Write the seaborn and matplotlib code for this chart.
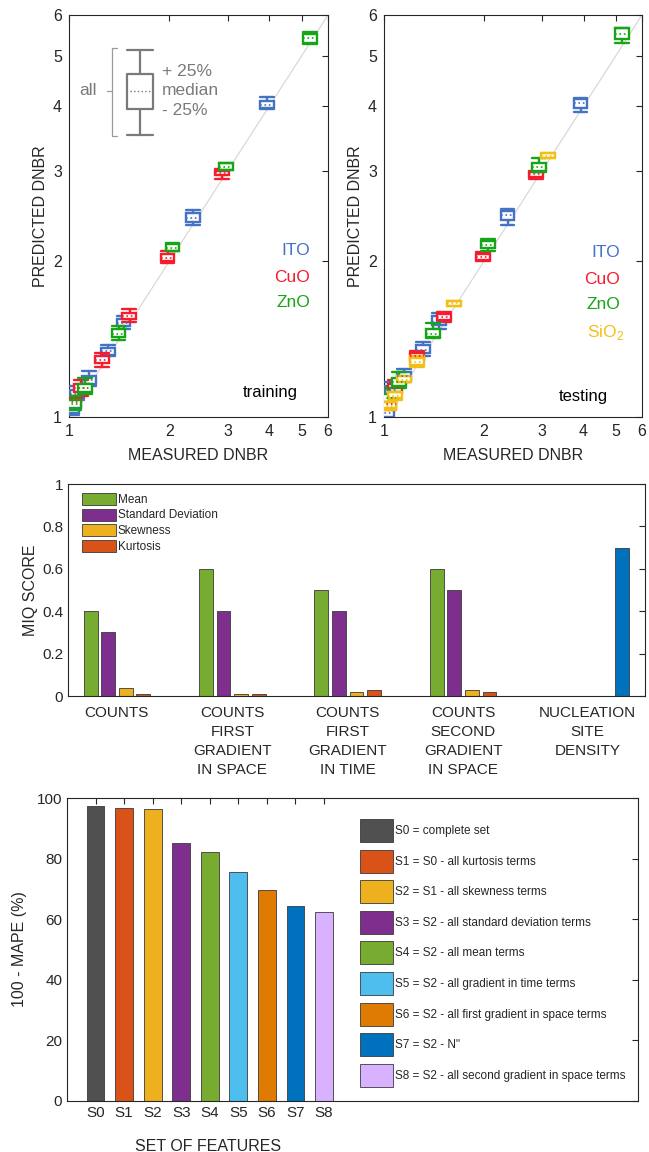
import numpy as np
import pandas as pd
import matplotlib.pyplot as plt
import seaborn as sns
from matplotlib.patches import Patch
from matplotlib.ticker import NullLocator

sns.set_theme(style='white')
plt.rcParams['font.family'] = ['Liberation Sans', 'DejaVu Sans']
plt.rcParams['mathtext.fontset'] = 'custom'
plt.rcParams['mathtext.rm'] = 'Liberation Sans'

# ---------------- parity plots: (measured, whisker_lo, q1, median, q3, whisker_hi)
train_ito = [(1.02, 1.01, 1.02, 1.04, 1.06, 1.07), (1.06, 1.08, 1.09, 1.11, 1.13, 1.15),
             (1.15, 1.15, 1.16, 1.18, 1.20, 1.23), (1.31, 1.31, 1.32, 1.34, 1.36, 1.38),
             (1.46, 1.48, 1.50, 1.52, 1.55, 1.57), (2.36, 2.35, 2.39, 2.43, 2.48, 2.52),
             (3.94, 3.94, 3.96, 4.02, 4.09, 4.16)]
train_cuo = [(1.035, 1.04, 1.05, 1.07, 1.09, 1.10), (1.09, 1.10, 1.12, 1.14, 1.16, 1.18),
             (1.26, 1.25, 1.27, 1.29, 1.31, 1.33), (1.52, 1.53, 1.55, 1.57, 1.59, 1.62),
             (1.98, 1.99, 2.00, 2.03, 2.07, 2.10), (2.88, 2.89, 2.94, 2.97, 3.00, 3.02)]
train_zno = [(1.035, 1.03, 1.04, 1.06, 1.08, 1.10), (1.12, 1.11, 1.12, 1.14, 1.16, 1.19),
             (1.41, 1.41, 1.43, 1.45, 1.48, 1.50), (2.05, 2.10, 2.10, 2.12, 2.16, 2.17),
             (2.96, 3.01, 3.01, 3.05, 3.10, 3.10), (5.30, 5.27, 5.30, 5.41, 5.52, 5.55)]

test_ito = [(1.02, 0.99, 1.00, 1.02, 1.04, 1.06), (1.055, 1.10, 1.11, 1.13, 1.15, 1.17),
            (1.15, 1.17, 1.18, 1.20, 1.22, 1.24), (1.31, 1.31, 1.33, 1.35, 1.38, 1.40),
            (1.47, 1.48, 1.51, 1.53, 1.57, 1.59), (2.36, 2.35, 2.41, 2.46, 2.51, 2.53),
            (3.92, 3.90, 3.97, 4.05, 4.12, 4.14)]
test_cuo = [(1.035, 1.03, 1.04, 1.06, 1.08, 1.10), (1.08, 1.11, 1.12, 1.14, 1.16, 1.18),
            (1.26, 1.28, 1.29, 1.31, 1.33, 1.34), (1.52, 1.53, 1.54, 1.56, 1.58, 1.60),
            (1.99, 2.00, 2.01, 2.04, 2.07, 2.09), (2.88, 2.89, 2.92, 2.95, 2.98, 2.99)]
test_zno = [(1.035, 1.06, 1.07, 1.09, 1.11, 1.14), (1.11, 1.14, 1.15, 1.17, 1.19, 1.22),
            (1.41, 1.42, 1.43, 1.45, 1.48, 1.52), (2.06, 2.10, 2.12, 2.15, 2.19, 2.21),
            (2.94, 2.98, 3.00, 3.05, 3.10, 3.17), (5.23, 5.30, 5.40, 5.51, 5.65, 5.65)]
test_sio2 = [(1.035, 1.03, 1.04, 1.05, 1.07, 1.07), (1.08, 1.08, 1.09, 1.10, 1.12, 1.12),
             (1.15, 1.17, 1.17, 1.18, 1.20, 1.20), (1.26, 1.25, 1.26, 1.28, 1.30, 1.31),
             (1.63, 1.64, 1.64, 1.66, 1.68, 1.68), (3.12, 3.17, 3.17, 3.20, 3.24, 3.24)]

dnbr_range = [1, 6]
dnbr_ticks = [1, 2, 3, 4, 5, 6]
c_ito, c_cuo, c_zno, c_sio2 = '#4472C4', '#F51C2E', '#16A516', '#F2C014'

# ---------------- MIQ scores
groups = ['counts', 'grad_space', 'grad_time', 'grad2_space', 'nucleation']
group_labels = ['COUNTS', 'COUNTS\nFIRST\nGRADIENT\nIN SPACE', 'COUNTS\nFIRST\nGRADIENT\nIN TIME',
                'COUNTS\nSECOND\nGRADIENT\nIN SPACE', 'NUCLEATION\nSITE\nDENSITY']
stat_names = ['Mean', 'Standard Deviation', 'Skewness', 'Kurtosis', 'Nucleation site density']
mean_score = [0.40, 0.60, 0.50, 0.60]
std_score = [0.30, 0.40, 0.40, 0.50]
skew_score = [0.04, 0.01, 0.02, 0.03]
kurt_score = [0.01, 0.01, 0.03, 0.02]
nucleation_score = [0.70]
stat_colors = ['#77AC30', '#7E2F8E', '#EDB120', '#D95319', '#0072BD']

# ---------------- feature sets
set_names = ['S0', 'S1', 'S2', 'S3', 'S4', 'S5', 'S6', 'S7', 'S8']
set_pos = [1, 2, 3, 4, 5, 6, 7, 8, 9]
set_desc = ['S0 = complete set', 'S1 = S0 - all kurtosis terms', 'S2 = S1 - all skewness terms',
            'S3 = S2 - all standard deviation terms', 'S4 = S2 - all mean terms',
            'S5 = S2 - all gradient in time terms', 'S6 = S2 - all first gradient in space terms',
            'S7 = S2 - N"', 'S8 = S2 - all second gradient in space terms']
accuracy = [97.2, 96.7, 96.4, 85.3, 82.3, 75.6, 69.5, 64.2, 62.3]
set_colors = ['#505050', '#D95319', '#EDB120', '#7E2F8E', '#77AC30', '#4DBEEE', '#DF7B00', '#0072BD', '#D8B2FF']

INK = '#262626'


def style_axes(ax):
    for s in ax.spines.values():
        s.set_visible(True)
        s.set_color(INK)
        s.set_linewidth(0.8)
    ax.tick_params(direction='in', top=True, right=True, length=4, width=0.8,
                   colors=INK, labelsize=11)


def draw_boxes(ax, rows, color):
    stats = [dict(med=r[3], q1=r[2], q3=r[4], whislo=r[1], whishi=r[5], fliers=[]) for r in rows]
    pos = [r[0] for r in rows]
    w = [p * 0.095 for p in pos]
    ax.bxp(stats, positions=pos, widths=w, capwidths=w, patch_artist=True, showfliers=False,
           manage_ticks=False, zorder=3,
           boxprops=dict(facecolor='white', edgecolor=color, linewidth=1.7),
           medianprops=dict(color=color, linestyle=':', linewidth=1.2),
           whiskerprops=dict(color=color, linewidth=1.7),
           capprops=dict(color=color, linewidth=1.7))


def parity_axes(ax):
    ax.plot(dnbr_range, dnbr_range, color='#d4d4d4', lw=0.8, zorder=1)
    ax.set_xscale('log')
    ax.set_yscale('log')
    ax.set_xlim(dnbr_range)
    ax.set_ylim(dnbr_range)
    ax.set_xticks(dnbr_ticks, [str(t) for t in dnbr_ticks])
    ax.set_yticks(dnbr_ticks, [str(t) for t in dnbr_ticks])
    ax.xaxis.set_minor_locator(NullLocator())
    ax.yaxis.set_minor_locator(NullLocator())
    style_axes(ax)
    ax.tick_params(pad=5, labelsize=11.5)
    ax.set_xlabel('MEASURED DNBR', fontsize=11.5, color=INK, va='top')
    ax.set_ylabel('PREDICTED DNBR', fontsize=11.5, color=INK)
    ax.xaxis.set_label_coords(0.5, -0.078)
    ax.yaxis.set_label_coords(-0.08, 0.5)


fig = plt.figure(figsize=(6.49, 11.52), dpi=100)
W, H = 649, 1152
ax1 = fig.add_axes([69 / W, 1 - 417 / H, 259 / W, 402 / H])
ax2 = fig.add_axes([384 / W, 1 - 417 / H, 258 / W, 402 / H])
ax3 = fig.add_axes([68 / W, 1 - 696 / H, 577 / W, 212 / H])
ax4 = fig.add_axes([67 / W, 1 - 1101 / H, 571 / W, 303 / H])

# ---- training panel
for rows, c in [(train_ito, c_ito), (train_cuo, c_cuo), (train_zno, c_zno)]:
    draw_boxes(ax1, rows, c)
parity_axes(ax1)
for txt, y, c in [('ITO', 0.415, c_ito), ('CuO', 0.348, c_cuo), ('ZnO', 0.284, c_zno)]:
    ax1.text(0.93, y, txt, color=c, fontsize=12.5, ha='right', va='center', transform=ax1.transAxes)
ax1.text(0.884, 0.06, 'training', color='black', fontsize=12, ha='right', va='center',
         transform=ax1.transAxes)

# box legend sketch
g = '#7a7a7a'
tr = ax1.transAxes
bx0, bx1, bxc = 0.224, 0.324, 0.274
ax1.plot([bx0, bx1, bx1, bx0, bx0], [0.766, 0.766, 0.853, 0.853, 0.766], color=g, lw=1.6, transform=tr)
ax1.plot([bxc, bxc], [0.853, 0.913], color=g, lw=1.6, transform=tr)
ax1.plot([bxc, bxc], [0.701, 0.766], color=g, lw=1.6, transform=tr)
ax1.plot([bx0, bx1], [0.913, 0.913], color=g, lw=1.6, transform=tr)
ax1.plot([bx0, bx1], [0.701, 0.701], color=g, lw=1.6, transform=tr)
ax1.plot([bx0 + 0.01, bx1 - 0.01], [0.811, 0.811], color=g, lw=1.0, ls=':', transform=tr)
ax1.plot([0.185, 0.166, 0.166, 0.185], [0.918, 0.918, 0.699, 0.699], color='#9a9a9a', lw=0.9, transform=tr)
ax1.plot([0.147, 0.166], [0.811, 0.811], color='#9a9a9a', lw=0.9, transform=tr)
ax1.text(0.108, 0.811, 'all', color=g, fontsize=12.5, ha='right', va='center', transform=tr)
for txt, y in [('+ 25%', 0.86), ('median', 0.811), ('- 25%', 0.762)]:
    ax1.text(0.36, y, txt, color=g, fontsize=12.5, ha='left', va='center', transform=tr)

# ---- testing panel
for rows, c in [(test_ito, c_ito), (test_cuo, c_cuo), (test_zno, c_zno), (test_sio2, c_sio2)]:
    draw_boxes(ax2, rows, c)
parity_axes(ax2)
for txt, y, c in [('ITO', 0.41, c_ito), ('CuO', 0.343, c_cuo), ('ZnO', 0.279, c_zno)]:
    ax2.text(0.916, y, txt, color=c, fontsize=12.5, ha='right', va='center', transform=ax2.transAxes)
ax2.text(0.93, 0.211, 'SiO$_{\\mathregular{2}}$', color=c_sio2, fontsize=12.5, ha='right', va='center',
         transform=ax2.transAxes)
ax2.text(0.866, 0.052, 'testing', color='black', fontsize=12, ha='right', va='center',
         transform=ax2.transAxes)

# ---- MIQ score panel
rows = []
for gi, grp in enumerate(groups[:4]):
    for name, vals in zip(stat_names[:4], [mean_score, std_score, skew_score, kurt_score]):
        rows.append((grp, name, vals[gi]))
rows.append((groups[4], stat_names[4], nucleation_score[0]))
df_miq = pd.DataFrame(rows, columns=['group', 'stat', 'score'])

sns.barplot(data=df_miq, x='group', y='score', hue='stat', order=groups, hue_order=stat_names,
            palette=stat_colors, width=0.76, gap=0.21, dodge=True, saturation=1, errorbar=None,
            edgecolor='#3a3a3a', linewidth=0.6, legend=False, ax=ax3)
slot = 0.76 / len(stat_names)
ax3.set_xticks([i - 0.5 * slot for i in range(4)] + [4], group_labels, linespacing=1.45)
ax3.get_xticklabels()[-1].set_color('#0072BD')
ax3.set_xlim(-0.5, 4.5)
ax3.set_ylim(0, 1)
ax3.set_yticks([0, 0.2, 0.4, 0.6, 0.8, 1], ['0', '0.2', '0.4', '0.6', '0.8', '1'])
style_axes(ax3)
ax3.tick_params(axis='x', length=0, top=False, pad=7)
ax3.set_xlabel('')
ax3.set_ylabel('MIQ SCORE', fontsize=11.5, color=INK)
ax3.yaxis.set_label_coords(-0.052, 0.5)
h3 = [Patch(facecolor=c, edgecolor='#3a3a3a', linewidth=0.6) for c in stat_colors[:4]]
ax3.legend(h3, stat_names[:4], loc='upper left', bbox_to_anchor=(0.024, 0.958), frameon=False,
           fontsize=8.5, handlelength=2.9, handleheight=1.19, labelspacing=0.22, handletextpad=0.15,
           borderpad=0, borderaxespad=0)

# ---- feature set panel
df_set = pd.DataFrame({'pos': set_pos, 'acc': accuracy, 'desc': set_desc})
sns.barplot(data=df_set, x='pos', y='acc', hue='desc', hue_order=set_desc, palette=set_colors,
            native_scale=True, dodge=False, width=0.62, saturation=1, errorbar=None,
            edgecolor='#3a3a3a', linewidth=0.6, legend=False, ax=ax4)
ax4.set_xlim(0, 20)
ax4.set_ylim(0, 100)
ax4.set_xticks(set_pos, set_names)
ax4.set_yticks([0, 20, 40, 60, 80, 100])
style_axes(ax4)
ax4.set_xlabel('SET OF FEATURES', fontsize=11.5, color=INK, va='top')
ax4.set_ylabel('100 - MAPE (%)', fontsize=11.5, color=INK)
ax4.xaxis.set_label_coords(0.247, -0.125)
ax4.yaxis.set_label_coords(-0.07, 0.5)
h4 = [Patch(facecolor=c, edgecolor='#3a3a3a', linewidth=0.6) for c in set_colors]
ax4.legend(h4, set_desc, loc='upper left', bbox_to_anchor=(0.513, 0.93), frameon=False,
           fontsize=8.5, handlelength=2.8, handleheight=2.62, labelspacing=0.64, handletextpad=0.15,
           borderpad=0, borderaxespad=0)

fig.savefig('out.png', dpi=100)
